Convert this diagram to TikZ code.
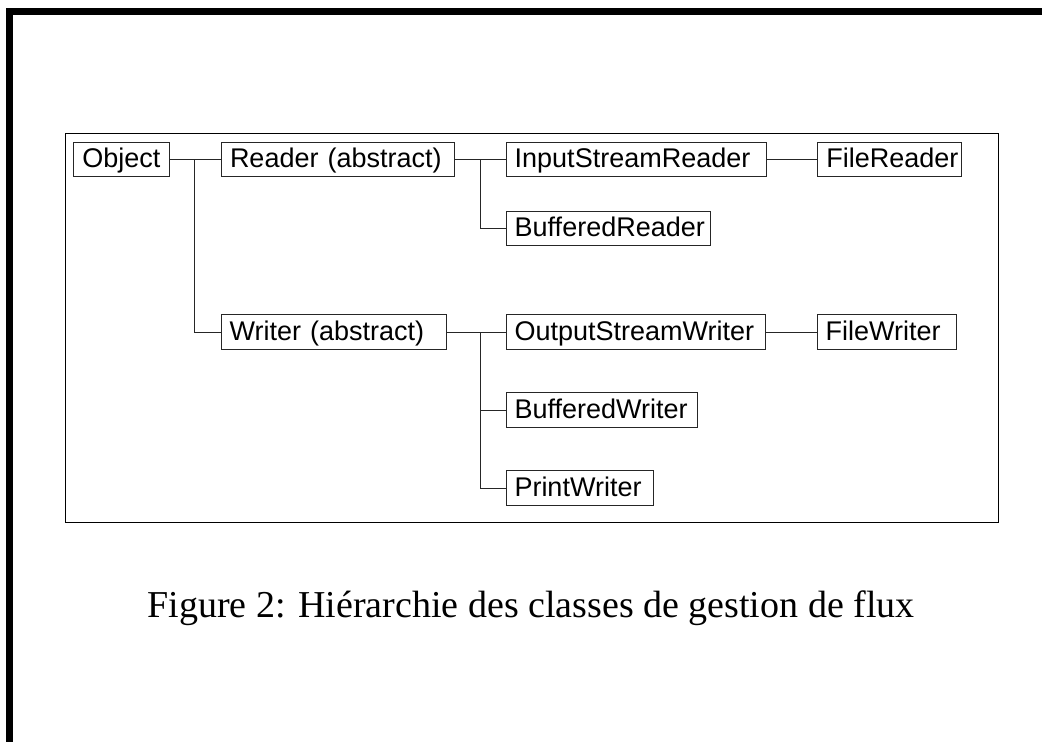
\documentclass[tikz,border=0pt]{standalone}
\usepackage{fontspec}
\setmainfont{Liberation Serif}
\newfontfamily\arialfont{Liberation Sans}
\begin{document}
\begin{tikzpicture}[x=1pt,y=-1pt,
  cls/.style={draw=black!85, line width=1pt, anchor=west, minimum height=34.3pt,
    inner xsep=8.5pt, inner ysep=0pt, align=left, text width=#1,
    text height=19pt, text depth=3pt,
    font=\arialfont\fontsize{27}{30}\selectfont},
  link/.style={draw=black!85, line width=1pt},
  border/.style={fill=black}]
\useasboundingbox (0,0) rectangle (1042,742);
\fill[border] (6,8) rectangle (1042,15);
\fill[border] (6,8) rectangle (13,742);
\draw[line width=1pt] (65,133.3) rectangle (998.3,522);
% rows
\node[cls=78.7pt]  (obj) at (73.3,159.6)  {Object};
\node[cls=216pt]   (rdr) at (221,159.6)   {Reader (abstract)};
\node[cls=243.3pt] (isr) at (505.7,159.6) {InputStreamReader};
\node[cls=126.7pt] (fr)  at (817.3,159.6) {FileReader};
\node[cls=187.3pt] (br)  at (505.7,228.7) {BufferedReader};
\node[cls=208pt]   (wrt) at (220.7,332.1) {Writer (abstract)};
\node[cls=242.5pt] (osw) at (505.5,332.1) {OutputStreamWriter};
\node[cls=122pt]   (fw)  at (816.7,332.1) {FileWriter};
\node[cls=174.5pt] (bw)  at (505.5,410)   {BufferedWriter};
\node[cls=130.2pt] (pw)  at (505.5,488)   {PrintWriter};
% junctions
\coordinate (j0) at (194.5,159.6);
\coordinate (j1) at (480,159.6);
\coordinate (j2) at (480,332.1);
% connectors
\draw[link] (obj.east) -- (rdr.west);
\draw[link] (j0) |- (wrt.west);
\draw[link] (rdr.east) -- (isr.west);
\draw[link] (j1) |- (br.west);
\draw[link] (isr.east) -- (fr.west);
\draw[link] (wrt.east) -- (osw.west);
\draw[link] (j2) |- (bw.west);
\draw[link] (j2) |- (pw.west);
\draw[link] (osw.east) -- (fw.west);
% caption
\node[anchor=base, font=\fontsize{38}{44}\selectfont, inner sep=0pt] (cap) at (531,617)
  {Figure 2: Hiérarchie des classes de gestion de flux};
\end{tikzpicture}
\end{document}
